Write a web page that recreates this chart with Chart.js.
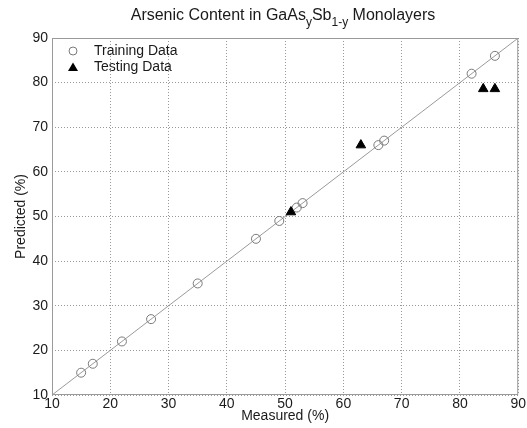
<!DOCTYPE html>
<html>
<head>
<meta charset="utf-8">
<script src="https://cdn.jsdelivr.net/npm/chart.js@4"></script>
<style>
  html, body { margin: 0; padding: 0; background: #fff; }
  #wrap { width: 527px; height: 428px; }
</style>
</head>
<body>
<div id="wrap"><canvas id="arsenic-chart"></canvas></div>
<script>
const FONT = '"Liberation Sans", Arial, Helvetica, sans-serif';

// measured vs predicted arsenic content (%)
const trainMeasured = [15, 17, 22, 27, 35, 45, 49, 52, 53, 66, 67, 82, 86];
const trainPredicted = [15, 17, 22, 27, 35, 45, 49, 52, 53, 66, 67, 82, 86];
const testMeasured = [51, 63, 84, 86];
const testPredicted = [51, 66, 78.6, 78.6];
const idealLine = [10, 90];
const tickValues = [10, 20, 30, 40, 50, 60, 70, 80, 90];

const toPoints = (xs, ys) => xs.map((x, i) => ({ x: x, y: ys[i] }));

// title with subscripts, legend inside the plot, and box round the axes
const decorations = {
    id: 'decorations',
    afterDraw(chart) {
        const ctx = chart.ctx;
        const area = chart.chartArea;
        ctx.save();

        // axes box
        ctx.strokeStyle = '#9a9a9a';
        ctx.lineWidth = 1;
        ctx.strokeRect(area.left + 0.5, area.top + 0.5, area.right - area.left - 1, area.bottom - area.top - 1);

        // title
        const parts = [
            { t: 'Arsenic Content in GaAs', sub: false },
            { t: 'y', sub: true },
            { t: 'Sb', sub: false },
            { t: '1-y', sub: true },
            { t: ' Monolayers', sub: false }
        ];
        const big = '16px ' + FONT, small = '12px ' + FONT;
        let total = 0;
        parts.forEach(p => { ctx.font = p.sub ? small : big; total += ctx.measureText(p.t).width; });
        let x = 283 - total / 2;
        ctx.fillStyle = '#1a1a1a';
        ctx.textAlign = 'left';
        ctx.textBaseline = 'alphabetic';
        parts.forEach(p => {
            ctx.font = p.sub ? small : big;
            ctx.fillText(p.t, x, p.sub ? 26 : 20);
            x += ctx.measureText(p.t).width;
        });

        // legend
        ctx.font = '14px ' + FONT;
        ctx.textBaseline = 'middle';
        ctx.fillStyle = '#1a1a1a';
        ctx.fillText('Training Data', 94, 51);
        ctx.fillText('Testing Data', 94, 67);

        ctx.beginPath();
        ctx.arc(73, 51, 4, 0, Math.PI * 2);
        ctx.strokeStyle = '#7a7a7a';
        ctx.stroke();

        ctx.beginPath();
        ctx.moveTo(73, 62.5);
        ctx.lineTo(78, 71);
        ctx.lineTo(68, 71);
        ctx.closePath();
        ctx.fillStyle = '#000';
        ctx.fill();

        ctx.restore();
    }
};

const axisCommon = {
    type: 'linear',
    min: 10,
    max: 90,
    afterBuildTicks: scale => { scale.ticks = tickValues.map(v => ({ value: v })); },
    grid: { color: '#999', lineWidth: 1, drawTicks: false },
    border: { display: false, dash: [1, 2] }
};

new Chart(document.getElementById('arsenic-chart'), {
    type: 'scatter',
    data: {
        datasets: [
            {
                label: 'Ideal',
                type: 'line',
                data: toPoints(idealLine, idealLine),
                borderColor: '#9a9a9a',
                borderWidth: 1,
                pointRadius: 0,
                fill: false,
                order: 3
            },
            {
                label: 'Training Data',
                data: toPoints(trainMeasured, trainPredicted),
                pointStyle: 'circle',
                pointRadius: 4.5,
                borderColor: '#7a7a7a',
                borderWidth: 1,
                backgroundColor: 'rgba(0,0,0,0)',
                order: 2
            },
            {
                label: 'Testing Data',
                data: toPoints(testMeasured, testPredicted),
                pointStyle: 'triangle',
                pointRadius: 5.5,
                borderColor: '#000',
                borderWidth: 1,
                backgroundColor: '#000',
                order: 1
            }
        ]
    },
    options: {
        responsive: true,
        maintainAspectRatio: false,
        animation: false,
        layout: { padding: { top: 38, right: 7, left: 0, bottom: 0 } },
        plugins: {
            legend: { display: false },
            tooltip: { enabled: false }
        },
        scales: {
            x: {
                ...axisCommon,
                position: 'bottom',
                afterFit: scale => { scale.height = 33; },
                ticks: { color: '#1a1a1a', padding: 1, font: { family: FONT, size: 14 }, maxRotation: 0, autoSkip: false },
                title: { display: true, text: 'Measured (%)', color: '#1a1a1a', font: { family: FONT, size: 14 }, padding: { top: 0, bottom: 3 } }
            },
            y: {
                ...axisCommon,
                position: 'left',
                afterFit: scale => { scale.width = 52; },
                ticks: { color: '#1a1a1a', padding: 4, font: { family: FONT, size: 14 }, autoSkip: false },
                title: { display: true, text: 'Predicted (%)', color: '#1a1a1a', font: { family: FONT, size: 14 }, padding: { top: 13, bottom: 0 } }
            }
        }
    },
    plugins: [decorations]
});
</script>
</body>
</html>
